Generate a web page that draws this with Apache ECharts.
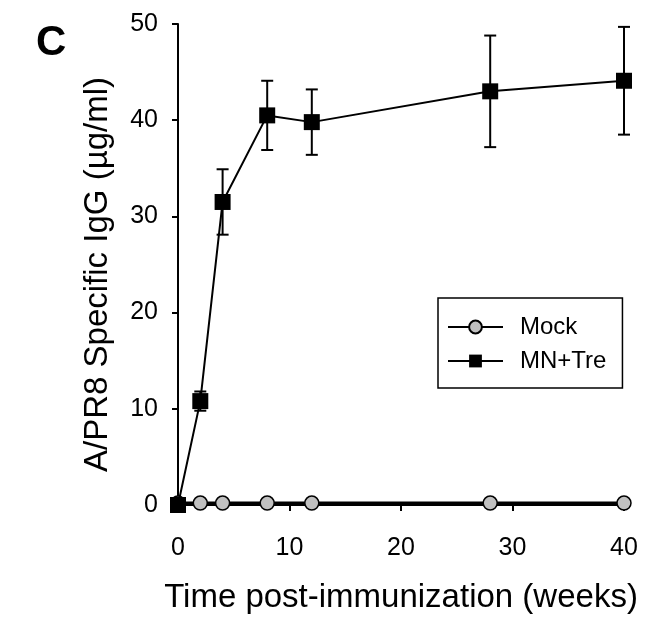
<!DOCTYPE html>
<html>
<head>
<meta charset="utf-8">
<script src="https://cdn.jsdelivr.net/npm/echarts@6/dist/echarts.min.js"></script>
<style>html,body{margin:0;padding:0;background:#fff;}#c{width:656px;height:627px;}</style>
</head>
<body>
<div id="c"></div>
<script>
var weeks = [0, 2, 4, 8, 12, 28, 40];
var mockValues = [0.2, 0.2, 0.2, 0.2, 0.2, 0.2, 0.2];
var mntreValues = [0, 10.8, 31.5, 40.5, 39.8, 43.0, 44.1];
var mntreErrors = [0, 1.0, 3.4, 3.6, 3.4, 5.8, 5.6];
var xTicks = [0, 10, 20, 30, 40];
var yTicks = [0, 10, 20, 30, 40, 50];

var FONT = 'Arial, "Liberation Sans", Helvetica, sans-serif';
var chart = echarts.init(document.getElementById('c'), null, {renderer: 'canvas'});

var errData = weeks.map(function (w, i) {
  return [w, mntreValues[i] - mntreErrors[i], mntreValues[i] + mntreErrors[i]];
});

chart.setOption({
  animation: false,
  backgroundColor: '#fff',
  grid: {left: 178, right: 32, top: 24, bottom: 122, containLabel: false},
  graphic: [{
    type: 'text', left: 36, top: 22,
    style: {text: 'C', font: 'bold 42px ' + FONT, fill: '#000'}
  }],
  legend: {
    orient: 'vertical',
    left: 438, top: 298,
    padding: [17, 16, 15, 9],
    itemGap: 10,
    itemWidth: 55, itemHeight: 16,
    borderColor: '#000', borderWidth: 1.5,
    backgroundColor: '#fff',
    textStyle: {fontFamily: FONT, fontSize: 24, color: '#000', padding: [0, 0, 0, 12]},
    data: ['Mock', 'MN+Tre']
  },
  xAxis: {
    type: 'value', min: 0, max: 40, interval: 10,
    name: 'Time post-immunization (weeks)', nameLocation: 'middle', nameGap: 76,
    nameTextStyle: {fontFamily: FONT, fontSize: 33, color: '#000'},
    axisLine: {show: true, onZero: false, lineStyle: {color: '#000', width: 2}},
    axisTick: {show: true, inside: false, length: 6, lineStyle: {color: '#000', width: 2}},
    axisLabel: {fontFamily: FONT, fontSize: 25, color: '#000', margin: 31,
      formatter: function (v) { return xTicks.indexOf(v) >= 0 ? String(v) : ''; }},
    splitLine: {show: false}
  },
  yAxis: {
    type: 'value', min: 0, max: 50, interval: 10,
    name: 'A/PR8 Specific IgG (µg/ml)', nameLocation: 'middle', nameGap: 64,
    nameTextStyle: {fontFamily: FONT, fontSize: 33, color: '#000', padding: [0, 20, 0, 0]},
    axisLine: {show: true, lineStyle: {color: '#000', width: 2}},
    axisTick: {show: true, inside: false, length: 6, lineStyle: {color: '#000', width: 2}},
    axisLabel: {fontFamily: FONT, fontSize: 25, color: '#000', margin: 20,
      formatter: function (v) { return yTicks.indexOf(v) >= 0 ? String(v) : ''; }},
    splitLine: {show: false}
  },
  series: [
    {
      name: 'Mock', type: 'line',
      data: weeks.map(function (w, i) { return [w, mockValues[i]]; }),
      symbol: 'circle', symbolSize: 14,
      lineStyle: {color: '#000', width: 3},
      itemStyle: {color: '#c0c0c0', borderColor: '#000', borderWidth: 1.5},
      z: 3
    },
    {
      name: 'errbars', type: 'custom',
      data: errData,
      renderItem: function (params, api) {
        var x = api.value(0);
        var lo = api.coord([x, api.value(1)]);
        var hi = api.coord([x, api.value(2)]);
        var cap = 6;
        var style = {stroke: '#000', lineWidth: 2};
        return {
          type: 'group',
          children: [
            {type: 'line', shape: {x1: lo[0], y1: lo[1], x2: hi[0], y2: hi[1]}, style: style},
            {type: 'line', shape: {x1: lo[0] - cap, y1: lo[1], x2: lo[0] + cap, y2: lo[1]}, style: style},
            {type: 'line', shape: {x1: hi[0] - cap, y1: hi[1], x2: hi[0] + cap, y2: hi[1]}, style: style}
          ]
        };
      },
      z: 4
    },
    {
      name: 'MN+Tre', type: 'line',
      data: weeks.map(function (w, i) { return [w, mntreValues[i]]; }),
      symbol: 'rect', symbolSize: 16,
      lineStyle: {color: '#000', width: 2},
      itemStyle: {color: '#000', borderColor: '#000', borderWidth: 0},
      z: 5
    }
  ]
});
</script>
</body>
</html>
